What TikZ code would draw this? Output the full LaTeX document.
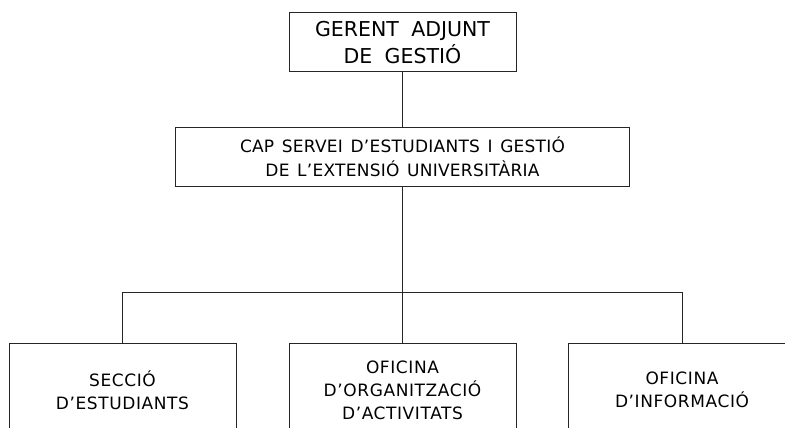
\documentclass[tikz,border=0pt]{standalone}
\usepackage{fontspec}
\setmainfont{DejaVu Sans}
\begin{document}
\begin{tikzpicture}[x=1pt,y=-1pt,
  box/.style={draw=black!85,line width=1pt,rectangle,inner sep=0pt,align=center,minimum width=227pt,minimum height=59pt},
  lowbox/.style={box,minimum height=94pt,font=\fontsize{17}{23}\selectfont\addfontfeatures{LetterSpace=3.5}},
  link/.style={draw=black!85,line width=1pt}]
\useasboundingbox (0,0) rectangle (785,428);
\clip (0,0) rectangle (785,428);
\node[box,font=\fontsize{20.5}{27}\selectfont] (top) at (402.5,42.5) {GERENT\hspace{0.6em}ADJUNT\\DE\hspace{0.6em}GESTIÓ};
\node[box,minimum width=454pt,font=\fontsize{17}{24}\selectfont\addfontfeatures{LetterSpace=1.5}] (mid) at (402.5,156.5) {CAP\hspace{0.45em}SERVEI\hspace{0.45em}D’ESTUDIANTS\hspace{0.45em}I\hspace{0.45em}GESTIÓ\\DE\hspace{0.45em}L’EXTENSIÓ\hspace{0.45em}UNIVERSITÀRIA};
\node[lowbox] (b1) at (122.5,390) {SECCIÓ\\D’ESTUDIANTS};
\node[lowbox] (b2) at (402.5,390) {OFICINA\\D’ORGANITZACIÓ\\D’ACTIVITATS};
\node[lowbox] (b3) at (682,390) {OFICINA\\D’INFORMACIÓ};
\coordinate (bus) at (402.5,292);
\draw[link] (top.south) -- (mid.north);
\draw[link] (mid.south) -- (b2.north);
\draw[link] (b1.north) -- (b1.north |- bus) -- (b3.north |- bus) -- (b3.north);
\end{tikzpicture}
\end{document}
